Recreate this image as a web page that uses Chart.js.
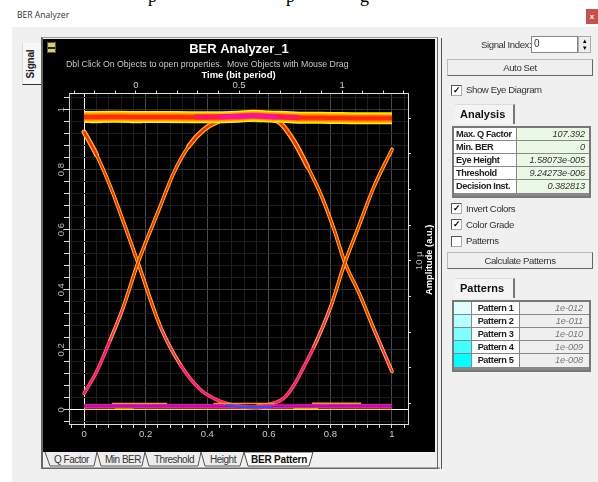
<!DOCTYPE html>
<html>
<head>
<meta charset="utf-8">
<title>BER Analyzer</title>
<script src="https://cdn.jsdelivr.net/npm/chart.js@4"></script>
<style>
html, body { margin: 0; padding: 0; background: #fff; }
body { width: 598px; height: 482px; position: relative; overflow: hidden; font-family: "Liberation Sans", Arial, sans-serif; color: #333; }
.abs { position: absolute; white-space: nowrap; }
#win { position: absolute; left: 12px; top: 27px; width: 586px; height: 455px; background: #f0f0f0; }
#plotFrame { position: absolute; left: 41px; top: 37px; width: 397px; height: 432px; border: 1px solid #666; border-left-width: 2px; border-top-color: #999; box-sizing: border-box; background: #f0f0f0; }
#plot { position: absolute; left: 43px; top: 39px; }
.lbl { font-size: 9.6px; letter-spacing: -0.4px; line-height: 12px; }
.btn { position: absolute; left: 447px; width: 146px; box-sizing: border-box; background: #efefef; border: 1px solid #bbb; border-right-color: #666; border-bottom-color: #666; text-align: center; font-size: 9.6px; letter-spacing: -0.4px; }
.chk { position: absolute; left: 451px; width: 9px; height: 9px; background: #fff; border: 1px solid #aaa; border-top-color: #555; border-left-color: #555; font-size: 9px; line-height: 9px; text-align: center; color: #000; font-weight: bold; }
.tab { position: absolute; left: 455px; width: 60px; height: 20px; box-sizing: border-box; background: #f4f4f4; border-right: 2px solid #777; border-top: 1px solid #ddd; font-weight: bold; font-size: 11px; line-height: 19px; padding-left: 5px; color: #111; }
.grid { position: absolute; left: 452px; width: 139px; box-sizing: border-box; border: 2px solid #777; background: #888; }
.row { display: flex; height: 13px; border-bottom: 1px solid #888; box-sizing: border-box; font-size: 9.2px; line-height: 12px; white-space: nowrap; }
.row:last-child { border-bottom: 0; }
.row b { display: block; letter-spacing: -0.4px; color: #222; }
.row i { letter-spacing: -0.1px; }
.tabB { position: absolute; top: 453px; font-size: 10px; letter-spacing: -0.5px; line-height: 13px; color: #333; }
</style>
</head>
<body>
<div class="abs" style="left:148px;top:-14px;font:18px 'Liberation Serif';color:#000;">p</div>
<div class="abs" style="left:286px;top:-14px;font:18px 'Liberation Serif';color:#000;">p</div>
<div class="abs" style="left:360px;top:-14px;font:18px 'Liberation Serif';color:#000;">g</div>
<div class="abs" style="left:17px;top:9px;font:8.6px 'Open Sans';color:#333;">BER Analyzer</div>
<div id="win"></div>
<div class="abs" style="left:586px;top:9px;width:12px;height:15px;background:#c9504f;color:#fff;font:bold 8px/15px 'Liberation Sans';text-align:center;">x</div>

<div class="abs" style="left:22px;top:43px;width:19px;height:42px;background:#f7f7f7;border-bottom:1px solid #333;border-left:1px solid #ddd;box-sizing:border-box;"></div>
<div class="abs" style="left:11px;top:58px;width:40px;text-align:center;font:bold 10px/12px 'Liberation Sans';letter-spacing:-0.2px;transform:rotate(-90deg);color:#222;">Signal</div>

<div id="plotFrame"></div>
<canvas id="plot" width="392" height="413"></canvas>
<div class="abs" style="left:47px;top:42px;width:9px;height:11px;background:#d8d060;border:1px solid #555;box-sizing:border-box;"></div>
<div class="abs" style="left:48px;top:47px;width:7px;height:2px;background:#222;"></div>

<svg class="abs" style="left:41px;top:452px;" width="400" height="17">
  <path d="M4 0 L9 14 L53 14 L56 0" fill="#ededed" stroke="#555"></path>
  <path d="M56 0 L60 14 L101 14 L104 0" fill="#ededed" stroke="#555"></path>
  <path d="M104 0 L108 14 L157 14 L160 0" fill="#ededed" stroke="#555"></path>
  <path d="M160 0 L164 14 L199 14 L203 0" fill="#ededed" stroke="#555"></path>
  <path d="M203 0 L207 14 L268 14 L272 0 Z" fill="#fff" stroke="#444"></path>
  <path d="M0 16 L399 16" stroke="#666"></path>
</svg>
<div class="tabB" style="left:54px;">Q Factor</div>
<div class="tabB" style="left:105px;">Min BER</div>
<div class="tabB" style="left:154px;">Threshold</div>
<div class="tabB" style="left:210px;">Height</div>
<div class="tabB" style="left:251px;font-weight:bold;color:#111;letter-spacing:-0.2px;">BER Pattern</div>

<div class="abs" style="left:441px;top:38px;width:1px;height:431px;background:#555;"></div>

<div class="abs lbl" style="left:481px;top:39px;">Signal Index:</div>
<div class="abs lbl" style="left:531px;top:36px;width:47px;height:17px;box-sizing:border-box;background:#fff;border:1px solid #888;padding:1px 2px;font-size:10px;">0</div>
<div class="abs" style="left:578px;top:36px;width:13px;height:17px;box-sizing:border-box;background:#eee;border:1px solid #aaa;font:7px/7px 'Liberation Sans';text-align:center;color:#000;">▴<br>▾</div>
<div class="btn" style="top:59px;height:17px;line-height:15px;">Auto Set</div>
<div class="chk" style="top:85px;">✓</div>
<div class="abs lbl" style="left:466px;top:84px;">Show Eye Diagram</div>
<div class="tab" style="top:104px;">Analysis</div>
<div class="grid" id="analysisGrid" style="top:126px;height:72px;"></div>
<div class="chk" style="top:203px;">✓</div>
<div class="abs lbl" style="left:466px;top:203px;">Invert Colors</div>
<div class="chk" style="top:219px;">✓</div>
<div class="abs lbl" style="left:466px;top:219px;">Color Grade</div>
<div class="chk" style="top:236px;"></div>
<div class="abs lbl" style="left:466px;top:235px;">Patterns</div>
<div class="btn" style="top:252px;height:17px;line-height:15px;">Calculate Patterns</div>
<div class="tab" style="top:278px;">Patterns</div>
<div class="grid" id="patternGrid" style="top:300px;height:72px;"></div>

<script>
// Wartosci
const bottomTicks = [0, 0.2, 0.4, 0.6, 0.8, 1];
const leftTicks = [0, 0.2, 0.4, 0.6, 0.8, 1];
const topTicks = [0, 0.5, 1];
const rightTicks = [10];

const topRailX = [0, 0.1, 0.2, 0.3, 0.4, 0.5, 0.55, 0.6, 0.7, 0.8, 0.9, 1];
const topRailY = [0.975, 0.976, 0.975, 0.975, 0.974, 0.976, 0.979, 0.977, 0.973, 0.972, 0.971, 0.971];
const railGlowX = [0.36, 0.45, 0.55, 0.64, 0.7];
const railGlowY = [0.975, 0.976, 0.979, 0.975, 0.973];
const railPeakX = [0.44, 0.5, 0.55, 0.6, 0.63];
const railPeakY = [0.975, 0.977, 0.979, 0.976, 0.975];
const railEdgeX = [0.02, 0.12, 0.15, 0.3, 0.42, 0.55, 0.65, 0.72, 0.85, 0.95];
const railEdgeY = [0.956, 0.957, 0.956, 0.957, 0.958, 0.96, 0.957, 0.956, 0.954, 0.955];

const fallAX = [0, 0.04, 0.085, 0.13, 0.175, 0.2475, 0.313, 0.378, 0.443, 0.508, 0.56, 0.6];
const fallAY = [0.925, 0.85, 0.744, 0.62, 0.49, 0.278, 0.15, 0.067, 0.028, 0.011, 0.006, 0.012];
const riseBX = [0, 0.041, 0.085, 0.128, 0.175, 0.2475, 0.291, 0.34, 0.389, 0.443, 0.5];
const riseBY = [0.055, 0.128, 0.233, 0.344, 0.49, 0.678, 0.789, 0.878, 0.933, 0.964, 0.975];
const fallCX = [0.6, 0.638, 0.682, 0.725, 0.769, 0.812, 0.847, 0.893, 0.942, 1];
const fallCY = [0.972, 0.955, 0.894, 0.811, 0.717, 0.6, 0.49, 0.389, 0.267, 0.128];
const riseDX = [0.56, 0.606, 0.649, 0.682, 0.714, 0.747, 0.801, 0.847, 0.888, 0.942, 1];
const riseDY = [0.012, 0.02, 0.039, 0.083, 0.144, 0.211, 0.344, 0.49, 0.6, 0.744, 0.867];

const bottomRailX = [0, 0.2, 0.4, 0.5, 0.56, 0.62, 0.8, 1];
const bottomRailY = [0.013, 0.013, 0.013, 0.011, 0.009, 0.012, 0.013, 0.013];
const troughBlueX = [0.46, 0.5, 0.56, 0.61];
const troughBlueY = [0.016, 0.011, 0.008, 0.011];
const upperTraceAX = [0.09, 0.27];
const upperTraceAY = [0.021, 0.021];
const upperTraceBX = [0.42, 0.62];
const upperTraceBY = [0.021, 0.021];
const upperTraceCX = [0.74, 0.9];
const upperTraceCY = [0.022, 0.022];
const lowerTraceX = [0, 1];
const lowerTraceY = [0.003, 0.003];
const lowerYellowX = [0.1, 0.16];
const lowerYellowY = [0.002, 0.002];
const lowerYellow2X = [0.68, 0.76];
const lowerYellow2Y = [0.003, 0.003];

const analysisLabels = ['Max. Q Factor', 'Min. BER', 'Eye Height', 'Threshold', 'Decision Inst.'];
const analysisValues = ['107.392', '0', '1.58073e-005', '9.24273e-006', '0.382813'];
const patternLabels = ['Pattern 1', 'Pattern 2', 'Pattern 3', 'Pattern 4', 'Pattern 5'];
const patternValues = ['1e-012', '1e-011', '1e-010', '1e-009', '1e-008'];
const patternColors = ['#dfffff', '#b4ffff', '#80ffff', '#40ffff', '#00ffff'];

// Tabelki po prawej
const analysisGrid = document.getElementById('analysisGrid');
analysisLabels.forEach((label, i) => {
	analysisGrid.innerHTML += `<div class="row"><b style="width:62px;background:#fff;padding-left:2px;box-sizing:border-box;margin-right:1px;">${label}</b><i style="flex:1;background:#e9f9e6;text-align:right;padding-right:4px;color:#333;">${analysisValues[i]}</i></div>`;
});
const patternGrid = document.getElementById('patternGrid');
patternLabels.forEach((label, i) => {
	patternGrid.innerHTML += `<div class="row"><span style="width:17px;background:${patternColors[i]};margin-right:1px;"></span><b style="width:47px;background:#fff;text-align:center;margin-right:1px;">${label}</b><i style="flex:1;background:#efefef;text-align:right;padding-right:6px;color:#777;">${patternValues[i]}</i></div>`;
});

function toPoints(xs, ys) {
	return xs.map((x, i) => ({ x, y: ys[i] }));
}

const datasets = [];
function addLine(xs, ys, color, width, extra) {
	datasets.push({
		data: toPoints(xs, ys),
		borderColor: color,
		borderWidth: width,
		pointRadius: 0,
		cubicInterpolationMode: 'monotone',
		fill: false,
		order: -datasets.length,
		...extra,
	});
}

// Krzywa w trzech warstwach: zolty, pomaranczowy, czerwony. Nisko przechodzi w rozowy
function addCurve(xs, ys) {
	addLine(xs, ys, '#ffe000', 3.6, {
		borderCapStyle: 'round',
		segment: {
			borderColor: (c) => (c.p0.parsed.y < 0.2 ? '#ff7a10' : '#ffe000'),
			borderWidth: (c) => (c.p0.parsed.y > 0.85 ? 5 : 3.6),
		},
	});
	addLine(xs, ys, '#ff8000', 2.4, {
		borderCapStyle: 'round',
		segment: {
			borderColor: (c) => (c.p0.parsed.y < 0.2 ? '#ff2a80' : '#ff8000'),
			borderWidth: (c) => (c.p0.parsed.y > 0.85 ? 3.6 : 2.4),
		},
	});
	addLine(xs, ys, '#ff2000', 1.4, {
		borderCapStyle: 'round',
		segment: {
			borderColor: (c) => (c.p0.parsed.y < 0.3 ? '#ff10a0' : '#ff2000'),
			borderWidth: (c) => (c.p0.parsed.y > 0.85 ? 2 : 1.4),
		},
	});
}

addCurve(fallAX, fallAY);
addCurve(riseBX, riseBY);
addCurve(fallCX, fallCY);
addCurve(riseDX, riseDY);

addLine(railEdgeX, railEdgeY, '#8a8a10', 1.5, { borderDash: [12, 28] });
addLine(topRailX, topRailY, '#ffee00', 12);
addLine(topRailX, topRailY, '#ffb000', 9);
addLine(topRailX, topRailY, '#ff7000', 6.5);
addLine(topRailX, topRailY, '#ff2a00', 4);
addLine(railGlowX, railGlowY, '#ff1860', 5);
addLine(railPeakX, railPeakY, '#ff0fa0', 4.5);

addLine(lowerTraceX, lowerTraceY, '#e08000', 1);
addLine(lowerYellowX, lowerYellowY, '#ffe000', 1.5);
addLine(lowerYellow2X, lowerYellow2Y, '#ffe000', 1.5);
addLine(upperTraceAX, upperTraceAY, '#f0a000', 1.5);
addLine(upperTraceBX, upperTraceBY, '#f0a000', 1.5);
addLine(upperTraceCX, upperTraceCY, '#f0a000', 1.5);
addLine(bottomRailX, bottomRailY, '#ff10a0', 4);
addLine(bottomRailX, bottomRailY, '#4020e0', 1.2);
addLine(troughBlueX, troughBlueY, '#1060ff', 2);

function sameTick(value, list) {
	return list.find((t) => Math.abs(t - value) < 1e-6);
}

// Napis prawej osi czytany od dolu do gory i podtytul przesuniety w lewo
const extraText = {
	id: 'extraText',
	afterDraw(chart) {
		const { ctx, chartArea } = chart;
		ctx.save();
		ctx.fillStyle = '#c8c8c8';
		ctx.font = '8.75px "Liberation Sans"';
		ctx.textAlign = 'left';
		ctx.textBaseline = 'middle';
		ctx.fillText('Dbl Click On Objects to open properties.  Move Objects with Mouse Drag', 23, 26);
		ctx.translate(chartArea.right + 21, (chartArea.top + chartArea.bottom) / 2 + 1);
		ctx.rotate(-Math.PI / 2);
		ctx.fillStyle = '#fff';
		ctx.font = 'bold 9.3px "Liberation Sans"';
		ctx.textAlign = 'center';
		ctx.fillText('Amplitude (a.u.)', 0, 0);
		ctx.restore();
	},
};

const canvasBg = {
	id: 'canvasBg',
	beforeDraw(chart) {
		chart.ctx.fillStyle = '#000';
		chart.ctx.fillRect(0, 0, chart.width, chart.height);
	},
};

new Chart(document.getElementById('plot').getContext('2d'), {
	type: 'line',
	data: { datasets },
	plugins: [canvasBg, extraText],
	options: {
		responsive: false,
		animation: false,
		devicePixelRatio: 1,
		layout: { padding: 0 },
		plugins: {
			legend: { display: false },
			tooltip: { enabled: false },
			title: {
				display: true,
				text: 'BER Analyzer_1',
				color: '#fff',
				font: { family: 'Liberation Sans', size: 13, weight: 'bold' },
				padding: { top: 3, bottom: 12 },
			},
		},
		scales: {
			x: {
				type: 'linear',
				position: 'bottom',
				min: -0.049,
				max: 1.052,
				afterFit: (s) => { s.height = 28; },
				border: { color: '#ddd' },
				grid: {
					color: (c) => {
						const v = c.tick ? c.tick.value : 1;
						if (Math.abs(v) < 1e-6) return '#fff';
						return sameTick(v, bottomTicks) !== undefined ? '#4a4a4a' : '#1d1d1d';
					},
					tickColor: '#ddd',
					tickLength: 4,
				},
				ticks: {
					stepSize: 0.04,
					includeBounds: false,
					autoSkip: false,
					maxRotation: 0,
					padding: 1,
					color: '#ccc',
					font: { family: 'Liberation Sans', size: 9.5 },
					callback: (v) => (sameTick(v, bottomTicks) !== undefined ? String(sameTick(v, bottomTicks)) : ''),
				},
			},
			x2: {
				type: 'linear',
				position: 'top',
				min: -0.325,
				max: 1.32,
				afterFit: (s) => { s.height = 24; },
				border: { color: '#ddd' },
				title: {
					display: true,
					text: 'Time (bit period)',
					color: '#fff',
					padding: 0,
					font: { family: 'Liberation Sans', size: 9.5, weight: 'bold' },
				},
				grid: { drawOnChartArea: false, tickColor: '#ddd', tickLength: 3 },
				ticks: {
					stepSize: 0.1,
					includeBounds: false,
					autoSkip: false,
					maxRotation: 0,
					padding: 0,
					color: '#ccc',
					font: { family: 'Liberation Sans', size: 9.5 },
					callback: (v) => (sameTick(v, topTicks) !== undefined ? String(sameTick(v, topTicks)) : ''),
				},
			},
			y: {
				type: 'linear',
				position: 'left',
				min: -0.047,
				max: 1.053,
				afterFit: (s) => { s.width = 26; },
				border: { color: '#ccc' },
				grid: {
					color: (c) => {
						const v = c.tick ? c.tick.value : 1;
						if (Math.abs(v) < 1e-6) return '#fff';
						return sameTick(v, leftTicks) !== undefined ? '#333' : '#1d1d1d';
					},
					tickColor: '#ddd',
					tickLength: 5,
				},
				ticks: {
					stepSize: 0.04,
					includeBounds: false,
					autoSkip: false,
					minRotation: 90,
					maxRotation: 90,
					crossAlign: 'center',
					padding: -4,
					color: '#bbb',
					font: { family: 'Liberation Sans', size: 9.5 },
					callback: (v) => (sameTick(v, leftTicks) !== undefined ? String(sameTick(v, leftTicks)) : ''),
				},
			},
			y2: {
				type: 'linear',
				position: 'right',
				min: -1.447,
				max: 21.73,
				afterFit: (s) => { s.width = 27; },
				border: { color: '#ddd' },
				grid: { drawOnChartArea: false, tickColor: '#ddd', tickLength: 3 },
				ticks: {
					stepSize: 2.5,
					includeBounds: false,
					autoSkip: false,
					minRotation: 90,
					maxRotation: 90,
					crossAlign: 'center',
					padding: -1,
					color: '#bbb',
					font: { family: 'Liberation Sans', size: 9.5 },
					callback: (v) => (sameTick(v, rightTicks) !== undefined ? '10 µ' : ''),
				},
			},
		},
	},
});
</script>
</body>
</html>
